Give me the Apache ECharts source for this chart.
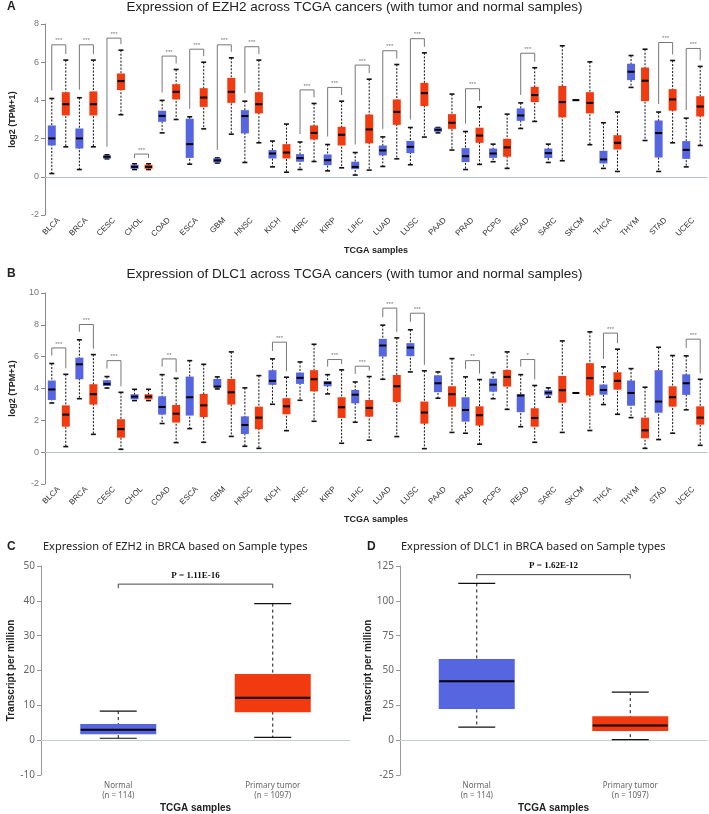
<!DOCTYPE html>
<html>
<head>
<meta charset="utf-8">
<script src="https://cdn.jsdelivr.net/npm/echarts@6/dist/echarts.min.js"></script>
<style>
html, body { margin: 0; padding: 0; background: #fff; }
#chart { width: 709px; height: 814px; }
</style>
</head>
<body>
<div id="chart"></div>
<script>
const cancers = ['BLCA', 'BRCA', 'CESC', 'CHOL', 'COAD', 'ESCA', 'GBM', 'HNSC', 'KICH', 'KIRC', 'KIRP', 'LIHC',
  'LUAD', 'LUSC', 'PAAD', 'PRAD', 'PCPG', 'READ', 'SARC', 'SKCM', 'THCA', 'THYM', 'STAD', 'UCEC']

// each row: [min, q1, median, q3, max] of log2(TPM+1)
const ezh2Normal = [
  [0.17, 1.64, 2.01, 2.69, 4.10], [0.38, 1.48, 2.01, 2.53, 4.14], [0.94, 0.96, 1.05, 1.12, 1.15], [0.38, 0.42, 0.52, 0.63, 0.68],
  [2.30, 2.88, 3.19, 3.46, 4.00], [0.66, 0.99, 1.71, 3.04, 3.14], [0.72, 0.75, 0.86, 0.97, 0.99], [0.75, 2.27, 3.18, 3.49, 3.96],
  [0.52, 0.96, 1.22, 1.40, 1.87], [0.38, 0.79, 0.98, 1.19, 1.82], [0.31, 0.61, 0.87, 1.17, 1.69], [0.09, 0.40, 0.52, 0.79, 1.27],
  [0.54, 1.12, 1.38, 1.64, 2.09], [0.63, 1.24, 1.57, 1.88, 2.58], [2.30, 2.36, 2.46, 2.57, 2.58], [0.38, 0.77, 1.08, 1.50, 2.37],
  [0.79, 0.99, 1.22, 1.48, 1.71], [2.53, 2.93, 3.21, 3.58, 3.87], [0.75, 0.98, 1.24, 1.48, 1.71], [4.01, 4.01, 4.01, 4.01, 4.01],
  [0.44, 0.70, 0.91, 1.36, 2.83], [4.68, 5.06, 5.50, 5.92, 6.35], [0.28, 1.01, 2.29, 2.95, 3.39], [0.52, 0.94, 1.41, 1.87, 3.07]
]
const ezh2Tumor = [
  [1.57, 3.21, 3.80, 4.43, 6.11], [1.57, 3.21, 3.80, 4.47, 6.11], [3.25, 4.54, 5.01, 5.41, 6.63], [0.38, 0.42, 0.52, 0.63, 0.68],
  [3.00, 4.05, 4.45, 4.85, 5.62], [2.51, 3.66, 4.15, 4.64, 6.00], [2.23, 3.87, 4.45, 5.18, 6.23], [1.78, 3.32, 3.80, 4.43, 6.11],
  [0.24, 0.96, 1.27, 1.71, 2.76], [0.80, 1.95, 2.30, 2.69, 3.84], [0.47, 1.64, 2.20, 2.62, 3.96], [0.35, 1.75, 2.48, 3.26, 5.11],
  [0.94, 2.72, 3.40, 4.05, 5.88], [2.08, 3.70, 4.38, 4.92, 6.49], [1.40, 2.51, 2.83, 3.28, 4.33], [0.65, 1.78, 2.16, 2.57, 3.66],
  [0.44, 1.05, 1.54, 1.99, 3.28], [2.90, 3.91, 4.28, 4.71, 5.71], [0.84, 3.11, 3.91, 4.76, 6.86], [1.68, 3.32, 3.87, 4.43, 6.02],
  [0.28, 1.43, 1.78, 2.18, 3.39], [1.90, 3.96, 5.03, 5.72, 6.68], [1.78, 3.46, 4.05, 4.59, 6.09], [1.64, 3.16, 3.68, 4.22, 5.78]
]
// [cancer, stars, bracket height]
const ezh2Sig = [
  ['BLCA', '***', 6.91], ['BRCA', '***', 6.91], ['CESC', '***', 7.26], ['CHOL', '***', 1.19], ['COAD', '***', 6.32],
  ['ESCA', '***', 6.68], ['GBM', '***', 6.91], ['HNSC', '***', 6.81], ['KIRC', '***', 4.55], ['KIRP', '***', 4.68],
  ['LIHC', '***', 5.85], ['LUAD', '***', 6.60], ['LUSC', '***', 7.23], ['PRAD', '***', 4.61], ['READ', '***', 6.47],
  ['STAD', '***', 7.03], ['UCEC', '***', 6.72]
]

const dlc1Normal = [
  [3.09, 3.28, 3.94, 4.50, 5.57], [3.36, 4.58, 5.52, 5.94, 7.06], [4.03, 4.16, 4.29, 4.52, 4.75], [3.24, 3.32, 3.49, 3.64, 3.95],
  [1.80, 2.36, 2.84, 3.51, 4.87], [1.48, 2.30, 3.45, 4.75, 5.75], [3.97, 4.06, 4.12, 4.60, 4.73], [0.37, 1.14, 1.71, 2.25, 4.04],
  [3.01, 4.23, 4.48, 5.15, 5.86], [3.26, 4.29, 4.67, 5.00, 5.67], [3.66, 4.14, 4.35, 4.47, 4.87], [1.88, 3.07, 3.61, 3.91, 4.41],
  [4.58, 6.01, 6.70, 7.12, 7.98], [5.04, 6.03, 6.57, 6.85, 7.69], [3.39, 3.77, 4.33, 4.83, 5.04], [1.19, 1.92, 2.65, 3.45, 4.73],
  [3.36, 3.80, 4.24, 4.62, 5.00], [1.60, 2.51, 3.56, 3.64, 4.87], [3.45, 3.57, 3.74, 3.89, 4.04], [3.72, 3.72, 3.72, 3.72, 3.72],
  [2.99, 3.61, 3.91, 4.25, 5.36], [2.17, 2.92, 3.72, 4.50, 5.25], [0.79, 2.48, 3.18, 5.15, 6.59], [2.66, 3.60, 4.33, 4.89, 6.05]
]
const dlc1Tumor = [
  [0.35, 1.60, 2.36, 2.94, 4.89], [1.12, 2.99, 3.64, 4.27, 6.13], [0.18, 0.91, 1.45, 2.07, 3.76], [3.24, 3.32, 3.49, 3.64, 3.95],
  [0.60, 1.86, 2.42, 2.97, 4.64], [0.62, 2.21, 2.94, 3.66, 5.52], [0.99, 2.99, 3.76, 4.60, 6.30], [0.24, 1.44, 2.17, 2.86, 4.81],
  [1.35, 2.38, 2.88, 3.39, 4.71], [1.94, 3.82, 4.58, 5.15, 6.78], [0.56, 2.15, 2.82, 3.45, 5.17], [0.75, 2.23, 2.78, 3.28, 4.75],
  [0.98, 3.14, 4.14, 4.85, 7.18], [0.22, 1.79, 2.49, 3.18, 5.11], [1.24, 2.86, 3.64, 4.14, 5.88], [0.50, 1.67, 2.32, 2.88, 4.56],
  [2.69, 4.12, 4.73, 5.17, 6.30], [0.62, 1.60, 2.15, 2.76, 4.19], [1.24, 3.11, 3.89, 4.79, 6.99], [1.36, 3.56, 4.65, 5.59, 7.56],
  [2.38, 3.93, 4.48, 5.02, 6.47], [0.24, 0.87, 1.37, 2.17, 4.08], [1.19, 2.86, 3.45, 4.14, 6.07], [0.43, 1.73, 2.17, 2.88, 4.58]
]
const dlc1Sig = [
  ['BLCA', '***', 6.55], ['BRCA', '***', 8.02], ['CESC', '***', 5.75], ['COAD', '**', 5.86], ['KICH', '***', 6.91],
  ['KIRP', '***', 5.82], ['LIHC', '***', 5.40], ['LUAD', '***', 9.05], ['LUSC', '***', 8.73], ['PRAD', '**', 5.75],
  ['READ', '*', 5.82], ['THCA', '***', 7.48], ['UCEC', '***', 7.10]
]

// BRCA, transcripts per million
const sampleTypes = ['Normal\n(n = 114)', 'Primary tumor\n(n = 1097)']
const ezh2Brca = [[0.55, 1.68, 3.01, 4.64, 8.34], [0.82, 8.05, 12.2, 18.96, 39.2]]
const dlc1Brca = [[9.4, 22.4, 42.3, 58.2, 112.5], [0.4, 6.6, 10.5, 17.2, 34.5]]
const ezh2P = ['P = 1.11E-16', 44.8]
const dlc1P = ['P = 1.62E-12', 118.8]

const BLUE = '#5566e0'
const RED = '#f23a10'

function boxItem(offset, boxW, capW, color, dash, capLW, medLW) {
  return function (params, api) {
    const c = api.value(0)
    const pt = k => api.coord([c, api.value(k)])
    const x = pt(1)[0] + offset
    const yMin = pt(1)[1], yQ1 = pt(2)[1], yMed = pt(3)[1], yQ3 = pt(4)[1], yMax = pt(5)[1]
    return {
      type: 'group',
      children: [
        { type: 'line', shape: { x1: x, y1: yMax, x2: x, y2: yMin }, style: { stroke: '#111', lineWidth: 1, lineDash: dash } },
        { type: 'line', shape: { x1: x - capW / 2, y1: yMax, x2: x + capW / 2, y2: yMax }, style: { stroke: '#111', lineWidth: capLW } },
        { type: 'line', shape: { x1: x - capW / 2, y1: yMin, x2: x + capW / 2, y2: yMin }, style: { stroke: '#111', lineWidth: capLW } },
        { type: 'rect', shape: { x: x - boxW / 2, y: yQ3, width: boxW, height: yQ1 - yQ3 }, style: { fill: color } },
        { type: 'line', shape: { x1: x - boxW / 2 + 0.5, y1: yMed, x2: x + boxW / 2 - 0.5, y2: yMed }, style: { stroke: '#000', lineWidth: medLW } }
      ]
    }
  }
}

function boxSeries(idx, rows, offset, color) {
  return {
    type: 'custom', xAxisIndex: idx, yAxisIndex: idx,
    data: rows.map((r, i) => [i].concat(r)),
    encode: { x: 0, y: [1, 2, 3, 4, 5] },
    renderItem: boxItem(offset, 8, 5, color, [2, 1.5], 1.6, 2)
  }
}

function sigSeries(idx, sig, normal, tumor) {
  return {
    type: 'custom', xAxisIndex: idx, yAxisIndex: idx,
    data: sig.map(s => {
      const i = cancers.indexOf(s[0])
      return [i, s[2], normal[i][4], tumor[i][4]]
    }),
    encode: { x: 0, y: 1 },
    renderItem: function (params, api) {
      const c = api.value(0)
      const xc = api.coord([c, 0])[0]
      const yTop = api.coord([c, api.value(1)])[1]
      const yL = Math.max(api.coord([c, api.value(2)])[1] - 8, yTop + 4)
      const yR = Math.max(api.coord([c, api.value(3)])[1] - 6, yTop + 4)
      return {
        type: 'group',
        children: [
          { type: 'polyline', shape: { points: [[xc - 7, yL], [xc - 7, yTop], [xc + 7, yTop], [xc + 7, yR]] },
            style: { stroke: '#777', lineWidth: 1, fill: 'none' } },
          { type: 'text', style: { text: sig[params.dataIndex][1], x: xc, y: yTop - 1, align: 'center', verticalAlign: 'bottom',
            fontSize: 6, fontFamily: 'Liberation Sans', fill: '#777' } }
        ]
      }
    }
  }
}

function brcaSeries(idx, rows) {
  return rows.map((r, i) => ({
    type: 'custom', xAxisIndex: idx, yAxisIndex: idx,
    data: [[i].concat(r)],
    encode: { x: 0, y: [1, 2, 3, 4, 5] },
    renderItem: boxItem(0, 76, 37, i === 0 ? BLUE : RED, [3, 3], 1.2, 2)
  }))
}

function pSeries(idx, p) {
  return {
    type: 'custom', xAxisIndex: idx, yAxisIndex: idx,
    data: [[0, p[1]]],
    encode: { x: 0, y: 1 },
    renderItem: function (params, api) {
      const a = api.coord([0, p[1]])
      const b = api.coord([1, p[1]])
      return {
        type: 'group',
        children: [
          { type: 'polyline', shape: { points: [[a[0], a[1] + 4], a, b, [b[0], b[1] + 4]] },
            style: { stroke: '#444', lineWidth: 1, fill: 'none' } },
          { type: 'text', style: { text: p[0], x: (a[0] + b[0]) / 2, y: a[1] - 4, align: 'center', verticalAlign: 'bottom',
            fontSize: 9, fontWeight: 'bold', fontFamily: 'Liberation Serif', fill: '#111' } }
        ]
      }
    }
  }
}

const chart = echarts.init(document.getElementById('chart'), null, { renderer: 'canvas' })

const panelTitle = (text, left, top) => ({ text, left, top, padding: 0,
  textStyle: { fontSize: 12, fontWeight: 'bold', color: '#222', fontFamily: 'Liberation Sans' } })
const mainTitle = (text, left, top, size, family) => ({ text, left, top, padding: 0,
  textStyle: { fontSize: size, fontWeight: 'normal', color: '#222', fontFamily: family } })

const tcgaX = (idx) => ({
  type: 'category', gridIndex: idx, data: cancers,
  name: 'TCGA samples', nameLocation: 'middle', nameGap: 31,
  nameTextStyle: { fontSize: 9, fontWeight: 'bold', color: '#222', fontFamily: 'Liberation Sans' },
  axisLine: { lineStyle: { color: '#b8c0cc' } },
  axisTick: { length: 3, lineStyle: { color: '#b8c0cc' } },
  axisLabel: { interval: 0, rotate: 45, fontSize: 8, color: '#333', margin: 4, fontFamily: 'Liberation Sans' }
})
const logY = (idx, max) => ({
  type: 'value', gridIndex: idx, min: -2, max: max, interval: 2,
  name: 'log2 (TPM+1)', nameLocation: 'middle', nameGap: 28, nameRotate: 90,
  nameTextStyle: { fontSize: 9, fontWeight: 'bold', color: '#222', fontFamily: 'Liberation Sans' },
  splitLine: { show: false },
  axisLine: { show: true, lineStyle: { color: '#888' } },
  axisTick: { show: true, length: 4, lineStyle: { color: '#888' } },
  axisLabel: { fontSize: 9, color: '#777', margin: 6, fontFamily: 'Liberation Sans' }
})
const brcaX = (idx) => ({
  type: 'category', gridIndex: idx, data: sampleTypes,
  name: 'TCGA samples', nameLocation: 'middle', nameGap: 28,
  nameTextStyle: { fontSize: 10, fontWeight: 'bold', color: '#222', fontFamily: 'Liberation Sans' },
  axisLine: { lineStyle: { color: '#c4ccd8' } },
  axisTick: { length: 3, lineStyle: { color: '#c4ccd8' } },
  axisLabel: { fontSize: 8, color: '#666', lineHeight: 10, margin: 6, fontFamily: 'Noto Sans' }
})
const tpmY = (idx, min, max, step) => ({
  type: 'value', gridIndex: idx, min, max, interval: step,
  name: 'Transcript per million', nameLocation: 'middle', nameGap: 25, nameRotate: 90,
  nameTextStyle: { fontSize: 10, fontWeight: 'bold', color: '#222', fontFamily: 'Liberation Sans' },
  splitLine: { show: false },
  axisLine: { show: true, lineStyle: { color: '#999' } },
  axisTick: { show: true, length: 4, lineStyle: { color: '#999' } },
  axisLabel: { fontSize: 10, color: '#666', margin: 6, fontFamily: 'Noto Sans' }
})

chart.setOption({
  animation: false,
  title: [
    panelTitle('A', 7, 1),
    mainTitle('Expression of EZH2 across TCGA cancers (with tumor and normal samples)', 'center', 0, 13.5, 'Liberation Sans'),
    panelTitle('B', 7, 268),
    mainTitle('Expression of DLC1 across TCGA cancers (with tumor and normal samples)', 'center', 267, 13.5, 'Liberation Sans'),
    panelTitle('C', 7, 541),
    mainTitle('Expression of EZH2 in BRCA based on Sample types', 43, 541, 11, 'Noto Sans'),
    panelTitle('D', 367, 541),
    mainTitle('Expression of DLC1 in BRCA based on Sample types', 401, 541, 11, 'Noto Sans')
  ],
  grid: [
    { left: 31, top: 24, width: 676, height: 191 },
    { left: 31, top: 293, width: 676, height: 191 },
    { left: 41, top: 566, width: 309, height: 211 },
    { left: 400, top: 566, width: 307, height: 211 }
  ],
  xAxis: [tcgaX(0), tcgaX(1), brcaX(2), brcaX(3)],
  yAxis: [logY(0, 8), logY(1, 10), tpmY(2, -10, 50, 10), tpmY(3, -25, 125, 25)],
  series: [
    boxSeries(0, ezh2Normal, -7, BLUE),
    boxSeries(0, ezh2Tumor, 7, RED),
    sigSeries(0, ezh2Sig, ezh2Normal, ezh2Tumor),
    boxSeries(1, dlc1Normal, -7, BLUE),
    boxSeries(1, dlc1Tumor, 7, RED),
    sigSeries(1, dlc1Sig, dlc1Normal, dlc1Tumor),
    ...brcaSeries(2, ezh2Brca),
    pSeries(2, ezh2P),
    ...brcaSeries(3, dlc1Brca),
    pSeries(3, dlc1P)
  ]
})

window.addEventListener('resize', function () {
  chart.resize()
})
</script>
</body>
</html>
